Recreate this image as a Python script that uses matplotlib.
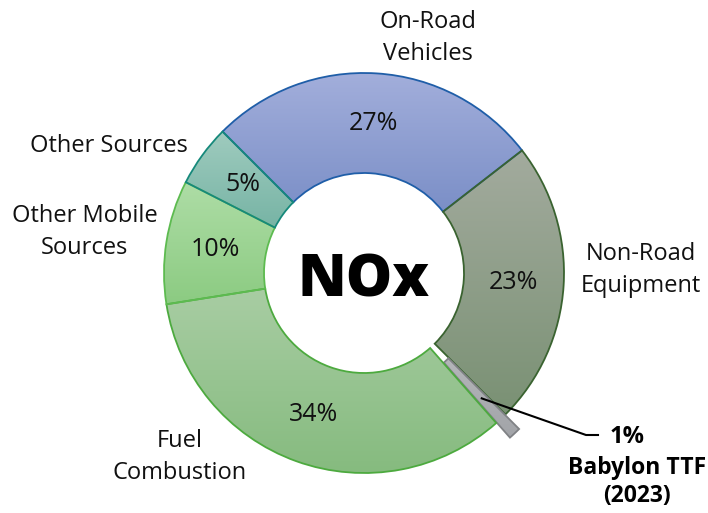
import numpy as np
import matplotlib
matplotlib.use("Agg")
import matplotlib.pyplot as plt
from matplotlib.colors import to_rgb

categories = ["On-Road\nVehicles", "Non-Road\nEquipment", "Babylon TTF\n(2023)",
              "Fuel\nCombustion", "Other Mobile\nSources", "Other Sources"]
values = [27, 23, 1, 34, 10, 5]
pct_labels = ["27%", "23%", "1%", "34%", "10%", "5%"]

grad_top = ["#A2AEDB", "#A3AB9E", "#B4B6BA", "#A8CDA3", "#AEDDA6", "#9FCBBE"]
grad_bot = ["#7B8FC7", "#7A9174", "#A2A4A8", "#86BB7F", "#8CCB82", "#77B4A5"]
edges = ["#1F5EA8", "#3A6330", "#808285", "#4DAA3F", "#5DBB50", "#16897B"]

plt.rcParams['font.family'] = ['Open Sans', 'DejaVu Sans']

fig = plt.figure(figsize=(7.08, 5.13), dpi=100)
ax = fig.add_axes([0, 0, 1, 1])

explode = [0, 0, 0.1, 0, 0, 0]
wedges, _ = ax.pie(values, startangle=135, counterclock=False, radius=1.0,
                   explode=explode, center=(0, 0),
                   wedgeprops=dict(width=0.5, linewidth=1.3))

for w, ct, cb, ec in zip(wedges, grad_top, grad_bot, edges):
    w.set_facecolor('none')
    w.set_edgecolor(ec)
    w.set_zorder(3)
    ext = w.get_path().get_extents()
    n = 64
    t = np.linspace(0, 1, n)[:, None]
    top = np.array(to_rgb(ct))
    bot = np.array(to_rgb(cb))
    img = (top[None, :] * (1 - t) + bot[None, :] * t)[:, None, :]
    im = ax.imshow(img, extent=[ext.x0, ext.x1, ext.y0, ext.y1], origin='upper',
                   aspect='auto', zorder=2, interpolation='bilinear')
    im.set_clip_path(w)

FS = 17

# percentage labels inside ring
for w, lab, v in zip(wedges, pct_labels, values):
    if v < 2:
        continue
    ang = np.deg2rad((w.theta1 + w.theta2) / 2)
    r = 0.75
    ax.text(r * np.cos(ang), r * np.sin(ang), lab, ha='center', va='center',
            fontsize=18, color='#111111', zorder=5)

# outer category labels (layout positions in pixel units -> data)
px = lambda x, y: ((x - 364) / 200.0, (273 - y) / 200.0)
label_pos = {0: (428, 38), 1: (641, 270), 3: (180, 457), 4: (85, 232), 5: (109, 146)}
for i, (x, y) in label_pos.items():
    ax.text(*px(x, y), categories[i], ha='center', va='center', fontsize=FS,
            color='#111111', linespacing=1.4)

# Babylon callout
bw = wedges[2]
ang = np.deg2rad((bw.theta1 + bw.theta2) / 2)
cx, cy = bw.center
r0 = 0.76
p0 = (cx + r0 * np.cos(ang), cy + r0 * np.sin(ang))
p1 = px(586, 435)
p2 = px(598, 435)
ax.plot([p0[0], p1[0], p2[0]], [p0[1], p1[1], p2[1]], color='black', lw=1.5, zorder=6)
ax.text(*px(627, 437), pct_labels[2], ha='center', va='center', fontsize=FS,
        fontweight='bold', color='black')
ax.text(*px(637, 482), categories[2], ha='center', va='center', fontsize=FS - 0.5,
        fontweight='bold', color='black', linespacing=1.25)

# center title
ax.text(0, -0.04, "NOx", ha='center', va='center', fontsize=42, fontweight=800,
        color='black', zorder=6)

ax.set_xlim(-364 / 200.0, (708 - 364) / 200.0)
ax.set_ylim((273 - 513) / 200.0, 273 / 200.0)
ax.set_aspect('equal')
ax.axis('off')

fig.savefig("out.png", dpi=100)
